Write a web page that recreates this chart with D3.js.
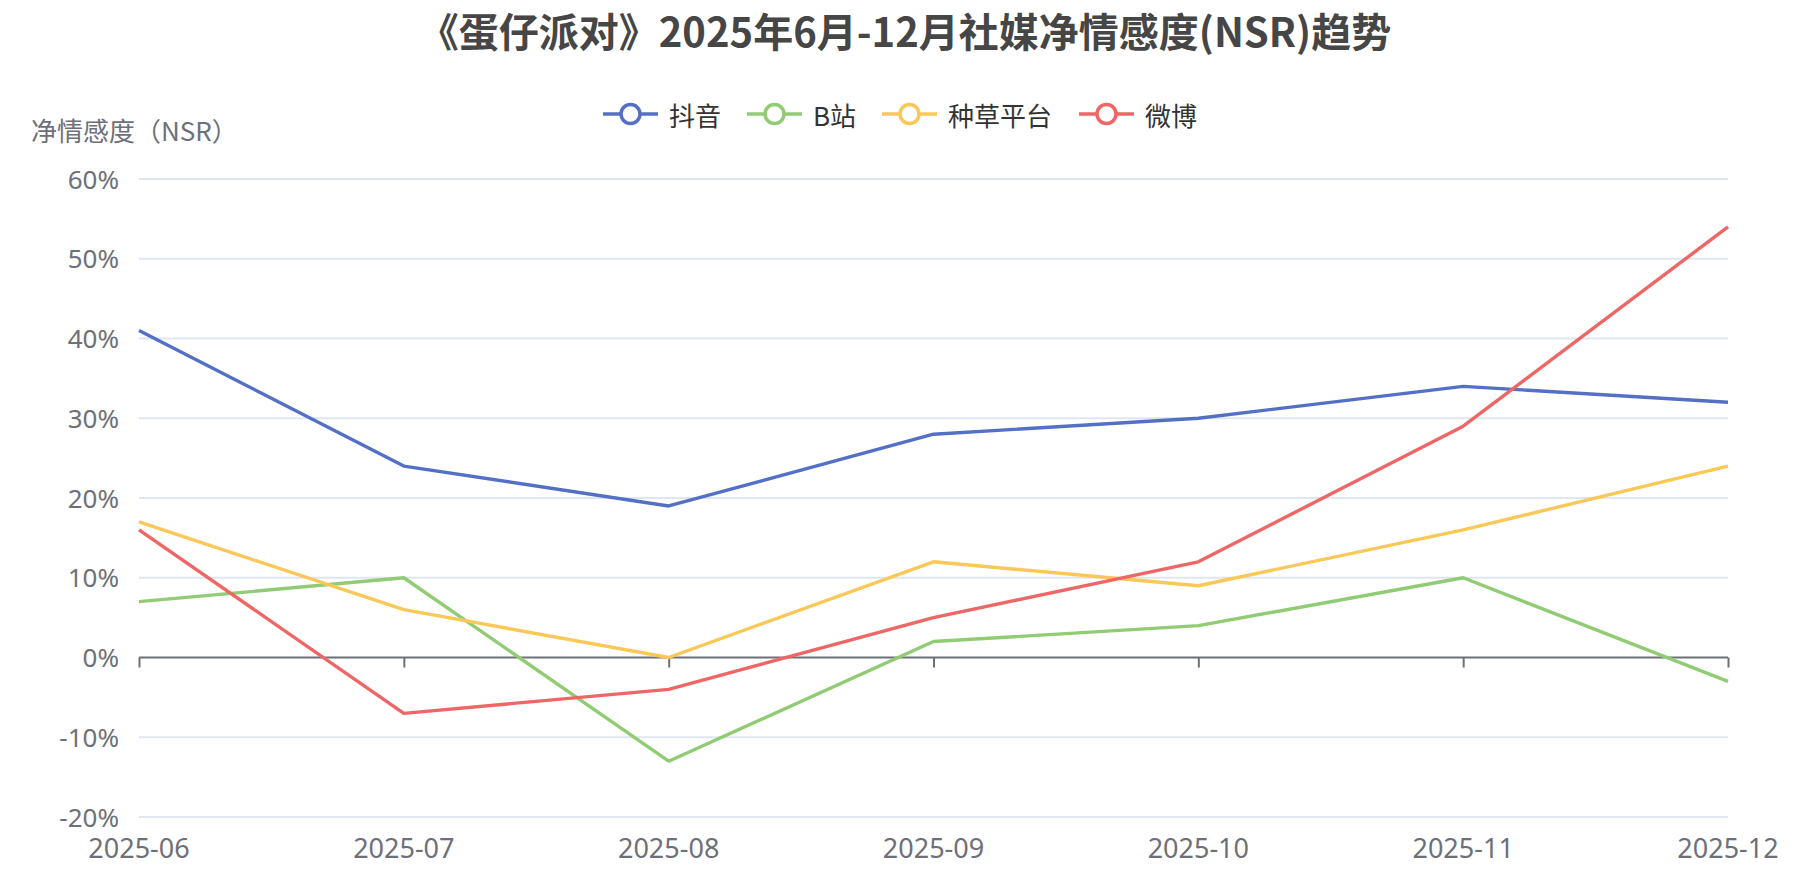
<!DOCTYPE html>
<html>
<head>
<meta charset="utf-8">
<script src="https://cdn.jsdelivr.net/npm/d3@7/dist/d3.min.js"></script>
<style>
  html, body { margin: 0; padding: 0; background: #fff; }
  svg { display: block; }
  text { font-family: "Noto Sans", "Noto Sans CJK SC", sans-serif; }
</style>
</head>
<body>
<svg id="chart" width="1800" height="887"></svg>
<script>
const titleText = "《蛋仔派对》2025年6月-12月社媒净情感度(NSR)趋势";
const yAxisName = "净情感度（NSR）";
const months = ["2025-06", "2025-07", "2025-08", "2025-09", "2025-10", "2025-11", "2025-12"];
const yTicks = [-20, -10, 0, 10, 20, 30, 40, 50, 60];
const seriesNames = ["抖音", "B站", "种草平台", "微博"];
const seriesColors = ["#5470c6", "#91cc75", "#fac858", "#ee6666"];
const douyin = [41, 24, 19, 28, 30, 34, 32];
const bilibili = [7, 10, -13, 2, 4, 10, -3];
const zhongcao = [17, 6, 0, 12, 9, 16, 24];
const weibo = [16, -7, -4, 5, 12, 29, 54];
const seriesValues = [douyin, bilibili, zhongcao, weibo];

(function () {
const svg = d3.select("#chart");
const plotL = 139, plotR = 1728, plotT = 179, plotB = 817;

const x = d3.scalePoint().domain(months).range([plotL, plotR]);
const y = d3.scaleLinear().domain([-20, 60]).range([plotB, plotT]);

// title
svg.append("text")
  .attr("x", 905).attr("y", 30)
  .attr("text-anchor", "middle").attr("dominant-baseline", "central")
  .style("font-family", "'Noto Sans CJK SC', sans-serif")
  .style("font-size", "40px").style("font-weight", "bold")
  .attr("fill", "#464646").text(titleText);

// y axis name
svg.append("text")
  .attr("x", 31).attr("y", 129)
  .attr("dominant-baseline", "central")
  .style("font-family", "'Noto Sans CJK SC', sans-serif")
  .style("font-size", "26px").attr("fill", "#6E7079").text(yAxisName);

// grid lines
svg.append("g").selectAll("line").data(yTicks.filter(d => d !== 0)).join("line")
  .attr("x1", plotL).attr("x2", plotR)
  .attr("y1", d => y(d)).attr("y2", d => y(d))
  .attr("stroke", "#E0E6F1").attr("stroke-width", 2);

// y axis labels
const yAxis = d3.axisLeft(y).tickValues(yTicks).tickSize(0).tickPadding(20).tickFormat(d => d + "%");
const yg = svg.append("g").attr("transform", `translate(${plotL},0)`).call(yAxis);
yg.select(".domain").remove();
yg.selectAll("text").attr("fill", "#6E7079").style("font-size", "26px").attr("dy", "0.35em");

// x axis at zero
const xAxis = d3.axisBottom(x).tickSize(10).tickPadding(0).tickFormat(() => "");
const xg = svg.append("g").attr("transform", `translate(0,${y(0)})`).call(xAxis);
xg.select(".domain").attr("stroke", "#6E7079").attr("stroke-width", 2).attr("d", `M${plotL},0H${plotR}`);
xg.selectAll(".tick line").attr("stroke", "#6E7079").attr("stroke-width", 2);

// x labels under the plot
svg.append("g").selectAll("text").data(months).join("text")
  .attr("x", d => x(d)).attr("y", 847)
  .attr("text-anchor", "middle").attr("dominant-baseline", "central")
  .style("font-size", "27px").attr("fill", "#6E7079").text(d => d);

// lines
const line = d3.line().x((d, i) => x(months[i])).y(d => y(d));
svg.append("g").selectAll("path").data(seriesValues).join("path")
  .attr("d", d => line(d))
  .attr("fill", "none")
  .attr("stroke", (d, i) => seriesColors[i])
  .attr("stroke-width", 3.4)
  .attr("stroke-linejoin", "bevel");

// legend
const legendX = [603, 747, 882, 1079];
const lg = svg.append("g").selectAll("g").data(seriesNames).join("g")
  .attr("transform", (d, i) => `translate(${legendX[i]},114)`);
lg.append("line").attr("x1", 0).attr("x2", 55).attr("y1", 0).attr("y2", 0)
  .attr("stroke", (d, i) => seriesColors[i]).attr("stroke-width", 3.5);
lg.append("circle").attr("cx", 27.5).attr("cy", 0).attr("r", 9.5)
  .attr("fill", "#fff").attr("stroke", (d, i) => seriesColors[i]).attr("stroke-width", 3.5);
lg.append("text").attr("x", 66).attr("y", 0).attr("dominant-baseline", "central")
  .style("font-family", "'Noto Sans CJK SC', sans-serif")
  .style("font-size", "26px").attr("fill", "#333").text(d => d);
})();
</script>
</body>
</html>
